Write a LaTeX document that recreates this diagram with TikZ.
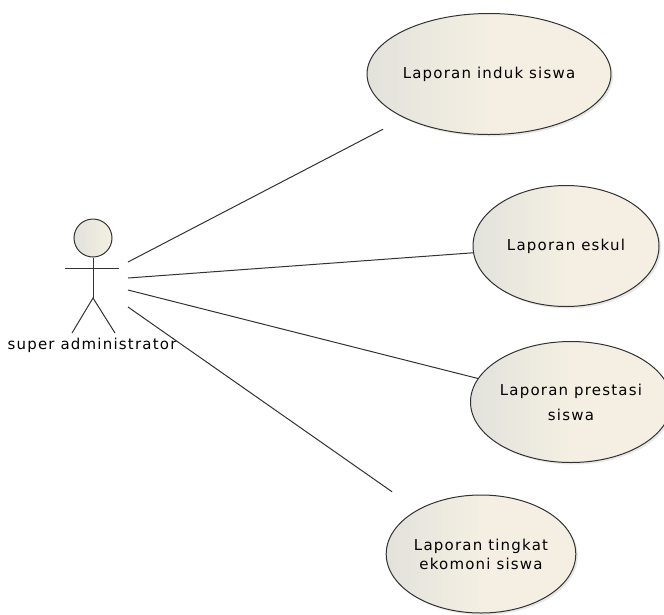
\documentclass[tikz,border=0pt]{standalone}
\usepackage{fontspec}
\setmainfont{DejaVu Sans}[LetterSpace=8]
\usetikzlibrary{shapes.geometric,shadows}
\definecolor{ucfill}{RGB}{244,239,226}
\definecolor{ucedge}{RGB}{226,226,220}
\definecolor{inkline}{RGB}{50,50,50}
\begin{document}
\begin{tikzpicture}[x=1pt,y=-1pt,
  usecase/.style={ellipse, draw=inkline, line width=1pt,
    minimum width=186pt, minimum height=121pt,
    left color=ucedge, right color=ucfill, middle color=ucfill,
    drop shadow={opacity=0.18, shadow xshift=2pt, shadow yshift=-2pt},
    inner sep=0pt, align=center, font=\fontsize{15}{19}\selectfont},
  assoc/.style={draw=inkline, line width=1pt},
  limb/.style={draw=inkline, line width=1pt}]
\useasboundingbox (0,0) rectangle (664,614);
% actor
\node[circle, draw=inkline, line width=1pt, left color=ucedge, right color=ucfill,
  minimum size=38pt, inner sep=0pt] (head) at (93,238) {};
\coordinate (hip) at (93,298);
\coordinate (armL) at (65,268);
\coordinate (armR) at (119,268);
\coordinate (footL) at (72,333);
\coordinate (footR) at (115,333);
\draw[limb] (head.south) -- (hip);
\draw[limb] (armL) -- (armR);
\draw[limb] (footL) -- (hip) -- (footR);
\node[font=\fontsize{15}{18}\selectfont] (actor) at (92,345) {super administrator};
% use cases
\node[usecase] (u1) at (489,74) {Laporan induk siswa};
\node[usecase] (u2) at (566,246) {Laporan eskul};
\node[usecase] (u3) at (571,402) {Laporan prestasi\\[6pt]siswa};
\node[usecase, minimum height=118pt] (u4) at (481,554) {Laporan tingkat\\ekomoni siswa};
% associations
\coordinate (a1) at (128,262);
\coordinate (a2) at (128,278);
\coordinate (a3) at (128,290);
\coordinate (a4) at (128,307);
\draw[assoc, shorten >=24pt] (a1) -- (u1);
\draw[assoc] (a2) -- (u2);
\draw[assoc] (a3) -- (u3);
\draw[assoc, shorten >=31pt] (a4) -- (u4);
\end{tikzpicture}
\end{document}
